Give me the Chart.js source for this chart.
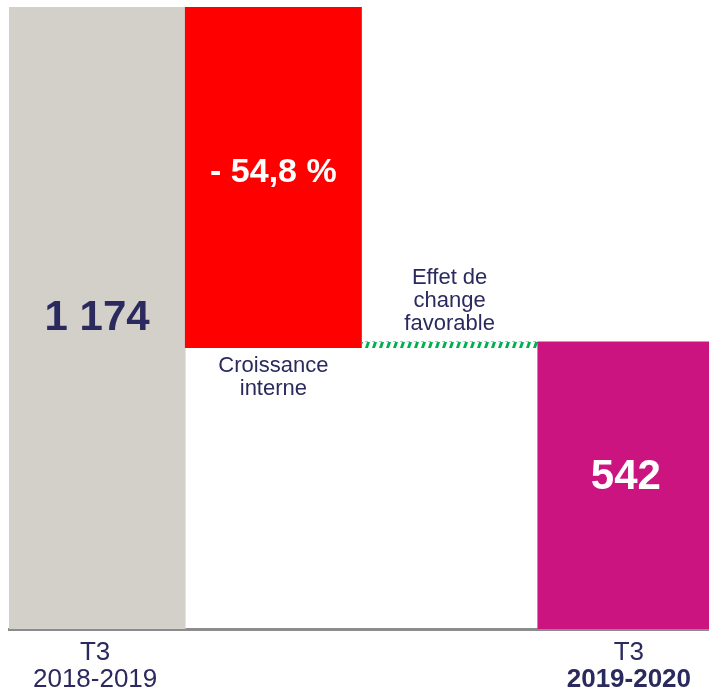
<!DOCTYPE html>
<html>
<head>
<meta charset="utf-8">
<script src="https://cdn.jsdelivr.net/npm/chart.js@4.4.0/dist/chart.umd.min.js"></script>
<style>
  html, body { margin: 0; padding: 0; overflow: hidden; background: #fff; }
  #wrap { width: 714px; height: 691px; }
</style>
</head>
<body>
<div id="wrap"><canvas id="bridge" width="714" height="691"></canvas></div>
<script>
// waterfall: T3 2018-2019 -> T3 2019-2020
var categories = [["T3", "2018-2019"], ["Croissance", "interne"], ["Effet de", "change", "favorable"], ["T3", "2019-2020"]];
var barStart = [0, 531, 531, 0];
var barEnd = [1174, 1174, 542, 542];
var valueLabels = ["1 174", "- 54,8 %", "", "542"];

var navy = '#2b2a5e';

// hatched green for the small fx bar
function hatch() {
  var c = document.createElement('canvas');
  c.width = 7; c.height = 6;
  var g = c.getContext('2d');
  g.fillStyle = '#00b050';
  g.beginPath();
  g.moveTo(1, 6); g.lineTo(4, 6); g.lineTo(6, 0); g.lineTo(3, 0);
  g.closePath();
  g.fill();
  return g.createPattern(c, 'repeat');
}
var ctx0 = document.getElementById('bridge').getContext('2d');
var colors = ['#d3d0c9', '#ff0000', hatch(), '#cc1480'];

var labelPlugin = {
  id: 'bridgeLabels',
  afterDatasetsDraw: function(chart) {
    var ctx = chart.ctx;
    var meta = chart.getDatasetMeta(0);
    var y = chart.scales.y;
    var area = chart.chartArea;
    ctx.save();
    ctx.textAlign = 'center';
    ctx.textBaseline = 'middle';
    meta.data.forEach(function(bar, i) {
      var top = y.getPixelForValue(barEnd[i]);
      var bottom = y.getPixelForValue(barStart[i]);
      // value inside the bar
      if (valueLabels[i]) {
        ctx.font = 'bold ' + (i === 1 ? 34 : 42) + 'px "Liberation Sans", Arial, sans-serif';
        ctx.fillStyle = i === 0 ? navy : '#ffffff';
        ctx.fillText(valueLabels[i], bar.x, (top + bottom) / 2 - (i === 3 ? 8 : 0) - (i === 1 ? 5 : 0));
      }
      var lines = categories[i];
      ctx.fillStyle = navy;
      if (i === 0 || i === 3) {
        lines.forEach(function(t, k) {
          ctx.font = (i === 3 && k === 1 ? 'bold ' : '') + '26px "Liberation Sans", Arial, sans-serif';
          ctx.fillText(t, bar.x + (i === 3 ? 3 : -2), area.bottom + 24 + k * 27);
        });
      } else if (i === 1) {
        ctx.font = '22px "Liberation Sans", Arial, sans-serif';
        lines.forEach(function(t, k) {
          ctx.fillText(t, bar.x, bottom + 18 + k * 23);
        });
      } else {
        ctx.font = '22px "Liberation Sans", Arial, sans-serif';
        lines.forEach(function(t, k) {
          ctx.fillText(t, bar.x, top - 18 - (lines.length - 1 - k) * 23);
        });
      }
    });
    ctx.restore();
  }
};

new Chart('bridge', {
  type: 'bar',
  data: {
    labels: categories.map(function(c) { return c.join(' '); }),
    datasets: [{
      data: categories.map(function(c, i) { return [barStart[i], barEnd[i]]; }),
      backgroundColor: colors,
      borderWidth: 0,
      barPercentage: 1,
      categoryPercentage: 1
    }]
  },
  options: {
    responsive: false,
    animation: false,
    layout: { padding: { left: 9, top: 7, right: 0, bottom: 62 } },
    plugins: {
      legend: { display: false },
      tooltip: { enabled: false }
    },
    scales: {
      x: {
        grid: { display: false, drawTicks: false },
        ticks: { display: false },
        border: { color: '#8c8c8c', width: 3 }
      },
      y: { display: false, min: 0, max: 1174 }
    }
  },
  plugins: [labelPlugin]
});
</script>
</body>
</html>
